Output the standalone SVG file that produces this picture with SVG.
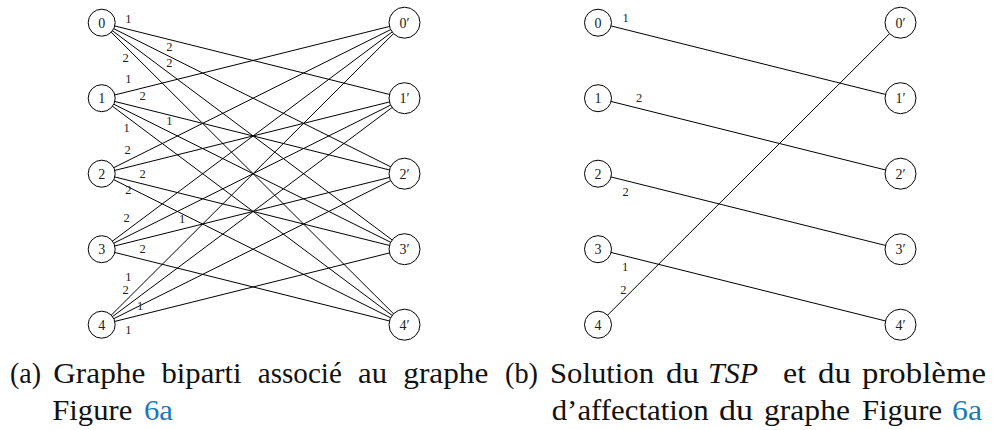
<svg xmlns="http://www.w3.org/2000/svg" width="996" height="430" viewBox="0 0 996 430">
<style>
.e{stroke:#000;stroke-width:1;fill:none}
.nl{fill:#fff;stroke:#000;stroke-width:1}
.nt{font-family:"Liberation Serif",serif;font-size:14px;text-anchor:middle;fill:#222}
.el{font-family:"Liberation Serif",serif;font-size:12.5px;text-anchor:middle;fill:#222}
.cap{font-family:"Liberation Serif",serif;font-size:29px;fill:#111}
.lnk{fill:#1b78b8}
</style>
<rect width="996" height="430" fill="#fff"/>
<g id="connectors-a">
<line class="e" x1="101.7" y1="22.7" x2="404.5" y2="98.2"/>
<line class="e" x1="101.7" y1="22.7" x2="404.5" y2="173.7"/>
<line class="e" x1="101.7" y1="22.7" x2="404.5" y2="249.2"/>
<line class="e" x1="101.7" y1="22.7" x2="404.5" y2="324.7"/>
<line class="e" x1="101.7" y1="98.2" x2="404.5" y2="22.7"/>
<line class="e" x1="101.7" y1="98.2" x2="404.5" y2="173.7"/>
<line class="e" x1="101.7" y1="98.2" x2="404.5" y2="249.2"/>
<line class="e" x1="101.7" y1="98.2" x2="404.5" y2="324.7"/>
<line class="e" x1="101.7" y1="173.7" x2="404.5" y2="22.7"/>
<line class="e" x1="101.7" y1="173.7" x2="404.5" y2="98.2"/>
<line class="e" x1="101.7" y1="173.7" x2="404.5" y2="249.2"/>
<line class="e" x1="101.7" y1="173.7" x2="404.5" y2="324.7"/>
<line class="e" x1="101.7" y1="249.2" x2="404.5" y2="22.7"/>
<line class="e" x1="101.7" y1="249.2" x2="404.5" y2="98.2"/>
<line class="e" x1="101.7" y1="249.2" x2="404.5" y2="173.7"/>
<line class="e" x1="101.7" y1="249.2" x2="404.5" y2="324.7"/>
<line class="e" x1="101.7" y1="324.7" x2="404.5" y2="22.7"/>
<line class="e" x1="101.7" y1="324.7" x2="404.5" y2="98.2"/>
<line class="e" x1="101.7" y1="324.7" x2="404.5" y2="173.7"/>
<line class="e" x1="101.7" y1="324.7" x2="404.5" y2="249.2"/>
<g id="edge-labels-a">
<text class="el" x="128.3" y="22.5">1</text>
<text class="el" x="169.3" y="50.9">2</text>
<text class="el" x="169.3" y="66.5">2</text>
<text class="el" x="125.7" y="61.5">2</text>
<text class="el" x="128.3" y="83.2">1</text>
<text class="el" x="142.7" y="100.2">2</text>
<text class="el" x="169.3" y="125.2">1</text>
<text class="el" x="126.7" y="131.9">1</text>
<text class="el" x="127.7" y="153.5">2</text>
<text class="el" x="142.7" y="177.5">2</text>
<text class="el" x="128.3" y="194.2">2</text>
<text class="el" x="126.7" y="222.2">2</text>
<text class="el" x="182" y="223.2">1</text>
<text class="el" x="142.7" y="252.5">2</text>
<text class="el" x="128.3" y="280.9">1</text>
<text class="el" x="125.7" y="294.2">2</text>
<text class="el" x="140" y="309.9">1</text>
<text class="el" x="128.3" y="334.2">1</text>
</g>
</g>
<g id="connectors-b">
<line class="e" x1="598" y1="22.7" x2="900.5" y2="98.2"/>
<line class="e" x1="598" y1="98.2" x2="900.5" y2="173.7"/>
<line class="e" x1="598" y1="173.7" x2="900.5" y2="249.2"/>
<line class="e" x1="598" y1="249.2" x2="900.5" y2="324.7"/>
<line class="e" x1="598" y1="324.7" x2="900.5" y2="22.7"/>
<g id="edge-labels-b">
<text class="el" x="625.7" y="21.5">1</text>
<text class="el" x="639" y="101.5">2</text>
<text class="el" x="625.7" y="195.9">2</text>
<text class="el" x="625" y="270.9">1</text>
<text class="el" x="623.3" y="294.2">2</text>
</g>
</g>
<g id="a-0"><circle class="nl" cx="101.7" cy="22.7" r="13.5"/><text class="nt" x="101.7" y="27.5">0</text></g>
<g id="a-1"><circle class="nl" cx="101.7" cy="98.2" r="13.5"/><text class="nt" x="101.7" y="103">1</text></g>
<g id="a-2"><circle class="nl" cx="101.7" cy="173.7" r="13.5"/><text class="nt" x="101.7" y="178.5">2</text></g>
<g id="a-3"><circle class="nl" cx="101.7" cy="249.2" r="13.5"/><text class="nt" x="101.7" y="254">3</text></g>
<g id="a-4"><circle class="nl" cx="101.7" cy="324.7" r="13.5"/><text class="nt" x="101.7" y="329.5">4</text></g>
<g id="a-0p"><circle class="nl" cx="404.5" cy="22.7" r="15.5"/><text class="nt" x="404.5" y="27.5">0′</text></g>
<g id="a-1p"><circle class="nl" cx="404.5" cy="98.2" r="15.5"/><text class="nt" x="404.5" y="103">1′</text></g>
<g id="a-2p"><circle class="nl" cx="404.5" cy="173.7" r="15.5"/><text class="nt" x="404.5" y="178.5">2′</text></g>
<g id="a-3p"><circle class="nl" cx="404.5" cy="249.2" r="15.5"/><text class="nt" x="404.5" y="254">3′</text></g>
<g id="a-4p"><circle class="nl" cx="404.5" cy="324.7" r="15.5"/><text class="nt" x="404.5" y="329.5">4′</text></g>
<g id="b-0"><circle class="nl" cx="598" cy="22.7" r="13.5"/><text class="nt" x="598" y="27.5">0</text></g>
<g id="b-1"><circle class="nl" cx="598" cy="98.2" r="13.5"/><text class="nt" x="598" y="103">1</text></g>
<g id="b-2"><circle class="nl" cx="598" cy="173.7" r="13.5"/><text class="nt" x="598" y="178.5">2</text></g>
<g id="b-3"><circle class="nl" cx="598" cy="249.2" r="13.5"/><text class="nt" x="598" y="254">3</text></g>
<g id="b-4"><circle class="nl" cx="598" cy="324.7" r="13.5"/><text class="nt" x="598" y="329.5">4</text></g>
<g id="b-0p"><circle class="nl" cx="900.5" cy="22.7" r="15.5"/><text class="nt" x="900.5" y="27.5">0′</text></g>
<g id="b-1p"><circle class="nl" cx="900.5" cy="98.2" r="15.5"/><text class="nt" x="900.5" y="103">1′</text></g>
<g id="b-2p"><circle class="nl" cx="900.5" cy="173.7" r="15.5"/><text class="nt" x="900.5" y="178.5">2′</text></g>
<g id="b-3p"><circle class="nl" cx="900.5" cy="249.2" r="15.5"/><text class="nt" x="900.5" y="254">3′</text></g>
<g id="b-4p"><circle class="nl" cx="900.5" cy="324.7" r="15.5"/><text class="nt" x="900.5" y="329.5">4′</text></g>
<g id="caption-a" class="cap">
<text x="10" y="383" textLength="31" lengthAdjust="spacingAndGlyphs">(a)</text>
<text x="53.3" y="383" textLength="92" lengthAdjust="spacingAndGlyphs">Graphe</text>
<text x="161.5" y="383" textLength="80" lengthAdjust="spacingAndGlyphs">biparti</text>
<text x="257.8" y="383" textLength="84" lengthAdjust="spacingAndGlyphs">associé</text>
<text x="358" y="383" textLength="29" lengthAdjust="spacingAndGlyphs">au</text>
<text x="403.3" y="383" textLength="85" lengthAdjust="spacingAndGlyphs">graphe</text>
<text x="52.3" y="420" textLength="80" lengthAdjust="spacingAndGlyphs">Figure</text>
<text x="144" y="420" class="lnk" textLength="29" lengthAdjust="spacingAndGlyphs">6a</text>
</g>
<g id="caption-b" class="cap">
<text x="505" y="383" textLength="33" lengthAdjust="spacingAndGlyphs">(b)</text>
<text x="550" y="383" textLength="104" lengthAdjust="spacingAndGlyphs">Solution</text>
<text x="666" y="383" textLength="33" lengthAdjust="spacingAndGlyphs">du</text>
<text x="708" y="383" font-style="italic" textLength="50" lengthAdjust="spacingAndGlyphs">TSP</text>
<text x="783" y="383" textLength="23" lengthAdjust="spacingAndGlyphs">et</text>
<text x="818" y="383" textLength="33" lengthAdjust="spacingAndGlyphs">du</text>
<text x="862" y="383" textLength="124" lengthAdjust="spacingAndGlyphs">problème</text>
<text x="551.7" y="420" textLength="157" lengthAdjust="spacingAndGlyphs">d’affectation</text>
<text x="719" y="420" textLength="34" lengthAdjust="spacingAndGlyphs">du</text>
<text x="764" y="420" textLength="86" lengthAdjust="spacingAndGlyphs">graphe</text>
<text x="862" y="420" textLength="80" lengthAdjust="spacingAndGlyphs">Figure</text>
<text x="952" y="420" class="lnk" textLength="30" lengthAdjust="spacingAndGlyphs">6a</text>
</g>
</svg>
